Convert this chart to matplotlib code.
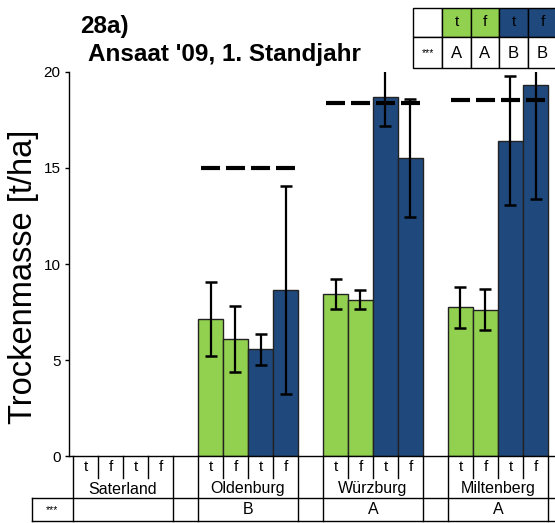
import matplotlib
matplotlib.use("Agg")
import matplotlib.pyplot as plt
import numpy as np
from matplotlib.lines import Line2D
from matplotlib.patches import Rectangle
from matplotlib.transforms import blended_transform_factory

plt.rcParams['font.family'] = ['Liberation Sans', 'DejaVu Sans']
plt.rcParams['lines.scale_dashes'] = False

# Sites and treatments
sites = ["Saterland", "Oldenburg", "Würzburg", "Miltenberg"]
treatments = ["t", "f", "t", "f"]
site_letters = ["", "B", "A", "A"]

# Dry mass [t/ha] per site: green t, green f, blue t, blue f
mean_values = [
    [np.nan, np.nan, np.nan, np.nan],
    [7.14, 6.11, 5.55, 8.65],
    [8.44, 8.14, 18.68, 15.50],
    [7.74, 7.62, 16.41, 19.34],
]
error_values = [
    [np.nan, np.nan, np.nan, np.nan],
    [1.91, 1.72, 0.79, 5.40],
    [0.77, 0.50, 1.50, 3.07],
    [1.06, 1.08, 3.36, 5.95],
]
# Reference level per site (dashed line)
reference_level = [np.nan, 15.0, 18.4, 18.55]

# Legend table
legend_head = ["", "t", "f", "t", "f"]
legend_letters = ["***", "A", "A", "B", "B"]

green = "#92D050"
blue = "#1F497D"
bar_colors = [green, green, blue, blue]

W, H = 555, 523
fig = plt.figure(figsize=(W / 100, H / 100), dpi=100)

def fx(px):
    return px / W

def fy(py):
    return 1 - py / H

ax = fig.add_axes([fx(69), fy(456), fx(555) - fx(69), fy(72) - fy(456)])

slot_step = 5
for g, site in enumerate(sites):
    xs = np.arange(4) + g * slot_step
    vals = np.array(mean_values[g], dtype=float)
    errs = np.array(error_values[g], dtype=float)
    if np.all(np.isnan(vals)):
        continue
    ax.bar(xs, vals, width=1.0, color=bar_colors, edgecolor="#222222",
           linewidth=1.0, zorder=2)
    ax.errorbar(xs, vals, yerr=errs, fmt="none", ecolor="black",
                elinewidth=1.6, capsize=4.5, capthick=1.8, zorder=3)
    if not np.isnan(reference_level[g]):
        ax.plot([xs[0] - 0.38, xs[-1] + 0.38], [reference_level[g]] * 2,
                color="black", lw=3, linestyle=(0, (13.7, 4.3)),
                solid_capstyle="butt", dash_capstyle="butt", zorder=4)

ax.set_xlim(-0.66, 18.78)
ax.set_ylim(0, 20)
ax.set_yticks([0, 5, 10, 15, 20])
ax.set_xticks([])
ax.tick_params(axis="y", direction="out", length=3, width=1, labelsize=11,
               pad=3)
for s in ["top", "right"]:
    ax.spines[s].set_visible(False)
ax.spines["left"].set_linewidth(1)
ax.spines["bottom"].set_linewidth(1)

fig.text(fx(24), fy(277), "Trockenmasse [t/ha]", fontsize=23.5,
         rotation=90, ha="center", va="center")

# Category table below the axis
tr = blended_transform_factory(ax.transData, fig.transFigure)
lc = "black"
lw = 1.0

def hline(x0, x1, py, transform):
    fig.add_artist(Line2D([x0, x1], [fy(py), fy(py)], color=lc, lw=lw,
                          transform=transform, clip_on=False))

def vline(x, py0, py1, transform):
    fig.add_artist(Line2D([x, x], [fy(py0), fy(py1)], color=lc, lw=lw,
                          transform=transform, clip_on=False))

ftr = fig.transFigure
hline(fx(32), 1.0, 498, ftr)
hline(fx(32), 1.0, 521, ftr)
vline(fx(32), 498, 521, ftr)
fig.text(fx(52), fy(510), "***", fontsize=7.5, ha="center", va="center")

for g, site in enumerate(sites):
    x0 = g * slot_step - 0.5
    x1 = x0 + 4
    vline(x0, 456, 521, tr)
    vline(x1, 456, 521, tr)
    for k in range(1, 4):
        vline(x0 + k, 456, 478, tr)
    for k, t in enumerate(treatments):
        fig.text(x0 + k + 0.5, fy(467), t, fontsize=11, ha="center",
                 va="center", transform=tr)
    fig.text(x0 + 2, fy(489), site, fontsize=11.5, ha="center",
             va="center", transform=tr)
    if site_letters[g]:
        fig.text(x0 + 2, fy(510), site_letters[g], fontsize=11.5,
                 ha="center", va="center", transform=tr)

# Legend table, top right
col_edges = [413, 442, 471, 499, 528, 557]
row_edges = [8, 37, 68]
head_colors = ["white", green, green, blue, blue]
for c in range(5):
    xa, xb = col_edges[c], col_edges[c + 1]
    fig.add_artist(Rectangle((fx(xa), fy(row_edges[1])), fx(xb - xa),
                             fy(row_edges[0]) - fy(row_edges[1]),
                             facecolor=head_colors[c], edgecolor="black",
                             lw=1, transform=ftr, clip_on=False))
    fig.add_artist(Rectangle((fx(xa), fy(row_edges[2])), fx(xb - xa),
                             fy(row_edges[1]) - fy(row_edges[2]),
                             facecolor="white", edgecolor="black",
                             lw=1, transform=ftr, clip_on=False))
    xm = fx((xa + xb) / 2)
    if legend_head[c]:
        fig.text(xm, fy(22), legend_head[c], fontsize=11, ha="center",
                 va="center", color="black")
    fs = 7.5 if legend_letters[c] == "***" else 12
    fig.text(xm, fy(53), legend_letters[c], fontsize=fs, ha="center",
             va="center")

# Titles
fig.text(fx(80), fy(27), "28a)", fontsize=17.5, fontweight="bold",
         ha="left", va="center")
fig.text(fx(88), fy(55), "Ansaat '09, 1. Standjahr", fontsize=17.5,
         fontweight="bold", ha="left", va="center")

fig.savefig("out.png", dpi=100)
